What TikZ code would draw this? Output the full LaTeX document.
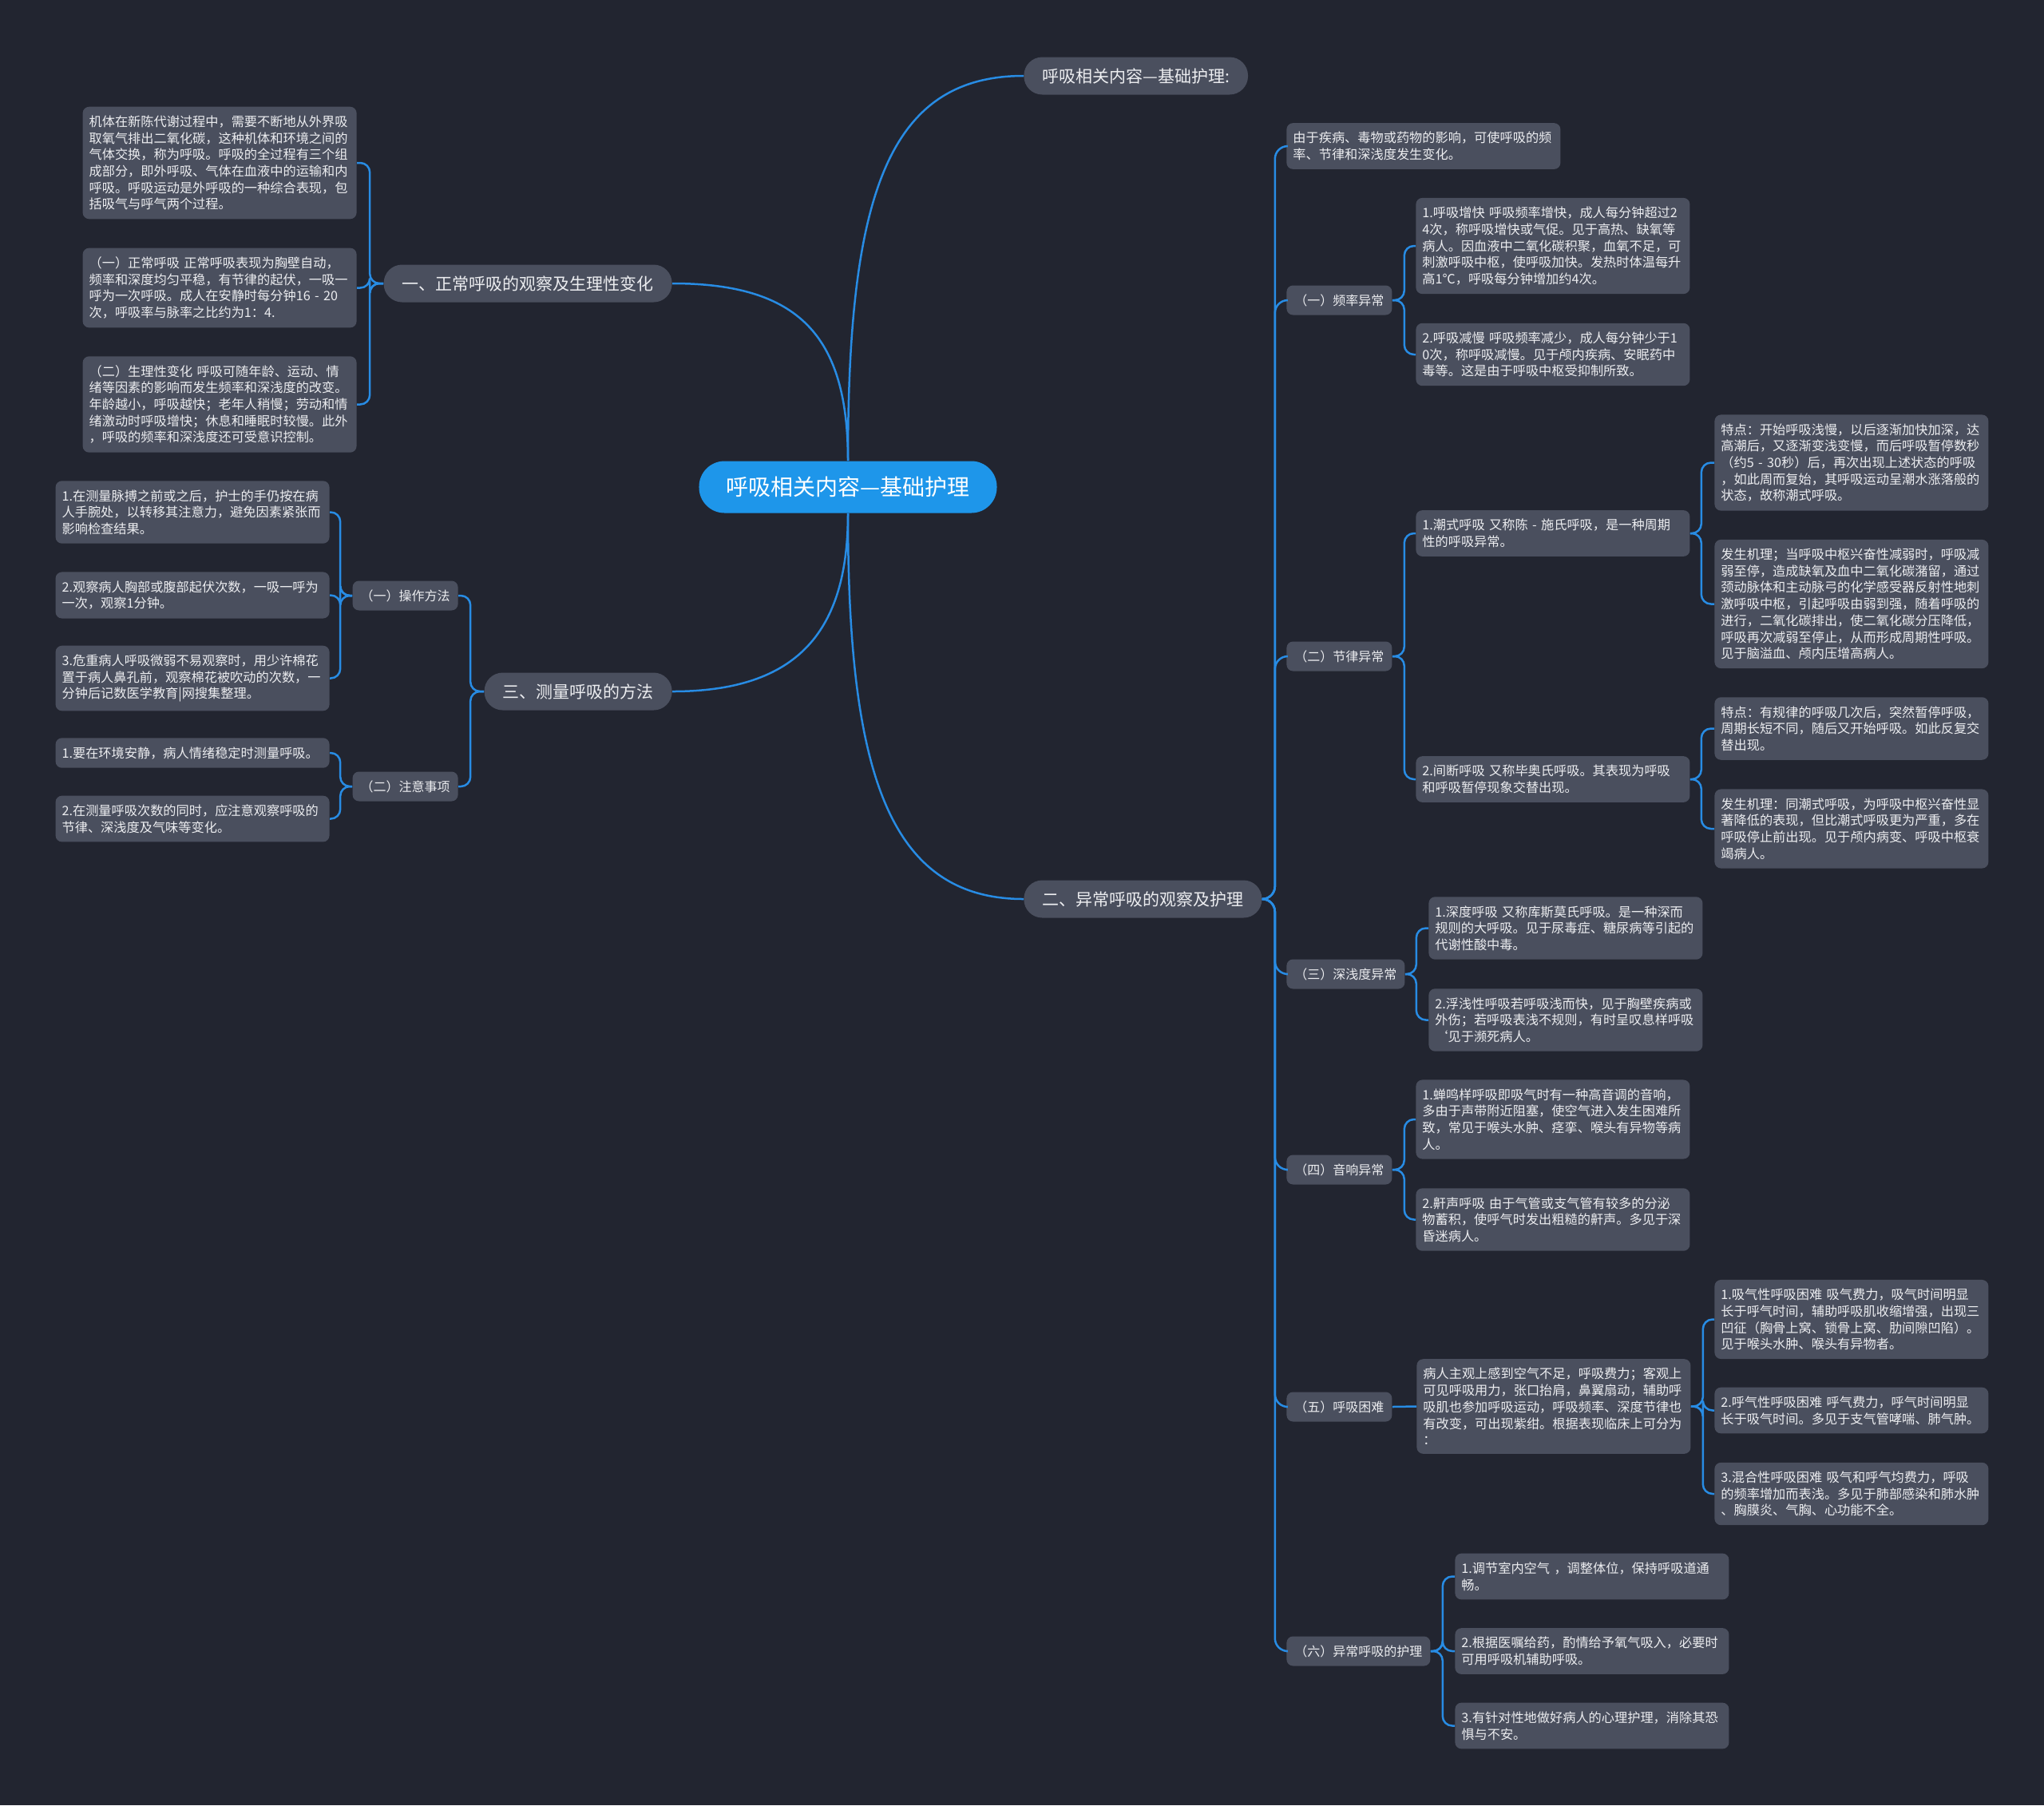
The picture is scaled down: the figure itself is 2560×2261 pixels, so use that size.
\documentclass[tikz,border=0pt]{standalone}
\usepackage{fontspec}
\setmainfont{Noto Sans CJK SC}

\definecolor{bgdark}{RGB}{34,37,48}
\definecolor{boxgrey}{RGB}{74,79,94}
\definecolor{linkblue}{RGB}{40,140,228}
\definecolor{rootblue}{RGB}{30,150,234}
\definecolor{txtwhite}{RGB}{236,237,240}

\tikzset{
  base/.style={fill=boxgrey, text=txtwhite, rounded corners=4pt},
  root/.style={fill=rootblue, text=white, rounded corners=16pt,
    font=\fontsize{14}{16}\selectfont, inner xsep=17pt, minimum height=32.5pt},
  branch/.style={base, rounded corners=11.5pt, font=\fontsize{10.5}{12}\selectfont,
    inner xsep=11.5pt, minimum height=23.5pt},
  sub/.style={base, font=\fontsize{8}{10.35}\selectfont, inner xsep=5pt,
    minimum height=18.5pt},
  leaf/.style={base, font=\fontsize{8.1}{10.35}\selectfont, align=left,
    text width=163.5pt, inner xsep=4pt, inner ysep=5.5pt},
  link/.style={draw=linkblue, line width=1.25pt, rounded corners=6pt},
}

\begin{document}
\begin{tikzpicture}[x=0.5pt, y=-0.5pt]

  \path[use as bounding box, fill=bgdark] (0,0) rectangle (2560,2261);

  \node[root] (root) at (1062,610) {呼吸相关内容—基础护理};

  \node[branch, anchor=west] (top) at (1282,95) {呼吸相关内容—基础护理:};
  \node[branch, anchor=east] (normal) at (842,355) {一、正常呼吸的观察及生理性变化};
  \node[branch, anchor=east] (measure) at (842,866) {三、测量呼吸的方法};
  \node[branch, anchor=west] (abnormal) at (1282,1126) {二、异常呼吸的观察及护理};

  % left side
  \node[leaf, anchor=east] (a1) at (447,204) {机体在新陈代谢过程中，需要不断地从外界吸\\取氧气排出二氧化碳，这种机体和环境之间的\\气体交换，称为呼吸。呼吸的全过程有三个组\\成部分，即外呼吸、气体在血液中的运输和内\\呼吸。呼吸运动是外呼吸的一种综合表现，包\\括吸气与呼气两个过程。};
  \node[leaf, anchor=east] (a2) at (447,360.5) {（一）正常呼吸 正常呼吸表现为胸壁自动，\\频率和深度均匀平稳，有节律的起伏，一吸一\\呼为一次呼吸。成人在安静时每分钟16 - 20\\次，呼吸率与脉率之比约为1：4.};
  \node[leaf, anchor=east] (a3) at (447,506.5) {（二）生理性变化 呼吸可随年龄、运动、情\\绪等因素的影响而发生频率和深浅度的改变。\\年龄越小，呼吸越快；老年人稍慢；劳动和情\\绪激动时呼吸增快；休息和睡眠时较慢。此外\\，呼吸的频率和深浅度还可受意识控制。};

  \node[sub, anchor=east] (op) at (574,746) {（一）操作方法};
  \node[sub, anchor=east] (heed) at (574,985) {（二）注意事项};

  \node[leaf, anchor=east] (b1) at (413,641.5) {1.在测量脉搏之前或之后，护士的手仍按在病\\人手腕处，以转移其注意力，避免因素紧张而\\影响检查结果。};
  \node[leaf, anchor=east] (b2) at (413,745.5) {2.观察病人胸部或腹部起伏次数，一吸一呼为\\一次，观察1分钟。};
  \node[leaf, anchor=east] (b3) at (413,849.5) {3.危重病人呼吸微弱不易观察时，用少许棉花\\置于病人鼻孔前，观察棉花被吹动的次数，一\\分钟后记数医学教育|网搜集整理。};
  \node[leaf, anchor=east] (c1) at (413,943) {1.要在环境安静，病人情绪稳定时测量呼吸。};
  \node[leaf, anchor=east] (c2) at (413,1025.5) {2.在测量呼吸次数的同时，应注意观察呼吸的\\节律、深浅度及气味等变化。};

  % right side
  \node[leaf, anchor=west] (d0) at (1611,183) {由于疾病、毒物或药物的影响，可使呼吸的频\\率、节律和深浅度发生变化。};

  \node[sub, anchor=west] (freq) at (1611,376) {（一）频率异常};
  \node[sub, anchor=west] (rhythm) at (1611,822) {（二）节律异常};
  \node[sub, anchor=west] (depth) at (1611,1220) {（三）深浅度异常};
  \node[sub, anchor=west] (sound) at (1611,1465) {（四）音响异常};
  \node[sub, anchor=west] (dysp) at (1611,1762) {（五）呼吸困难};
  \node[sub, anchor=west] (nurse) at (1611,2068) {（六）异常呼吸的护理};

  \node[leaf, anchor=west] (e1) at (1773,308) {1.呼吸增快 呼吸频率增快，成人每分钟超过2\\4次，称呼吸增快或气促。见于高热、缺氧等\\病人。因血液中二氧化碳积聚，血氧不足，可\\刺激呼吸中枢，使呼吸加快。发热时体温每升\\高1℃，呼吸每分钟增加约4次。};
  \node[leaf, anchor=west] (e2) at (1773,444) {2.呼吸减慢 呼吸频率减少，成人每分钟少于1\\0次，称呼吸减慢。见于颅内疾病、安眠药中\\毒等。这是由于呼吸中枢受抑制所致。};

  \node[leaf, anchor=west] (f1) at (1773,668) {1.潮式呼吸 又称陈 - 施氏呼吸，是一种周期\\性的呼吸异常。};
  \node[leaf, anchor=west] (f2) at (1773,976) {2.间断呼吸 又称毕奥氏呼吸。其表现为呼吸\\和呼吸暂停现象交替出现。};

  \node[leaf, anchor=west] (f1a) at (2147,579.5) {特点：开始呼吸浅慢，以后逐渐加快加深，达\\高潮后，又逐渐变浅变慢，而后呼吸暂停数秒\\（约5 - 30秒）后，再次出现上述状态的呼吸\\，如此周而复始，其呼吸运动呈潮水涨落般的\\状态，故称潮式呼吸。};
  \node[leaf, anchor=west] (f1b) at (2147,756.5) {发生机理；当呼吸中枢兴奋性减弱时，呼吸减\\弱至停，造成缺氧及血中二氧化碳潴留，通过\\颈动脉体和主动脉弓的化学感受器反射性地刺\\激呼吸中枢，引起呼吸由弱到强，随着呼吸的\\进行，二氧化碳排出，使二氧化碳分压降低，\\呼吸再次减弱至停止，从而形成周期性呼吸。\\见于脑溢血、颅内压增高病人。};
  \node[leaf, anchor=west] (f2a) at (2147,912.5) {特点：有规律的呼吸几次后，突然暂停呼吸，\\周期长短不同，随后又开始呼吸。如此反复交\\替出现。};
  \node[leaf, anchor=west] (f2b) at (2147,1038) {发生机理：同潮式呼吸，为呼吸中枢兴奋性显\\著降低的表现，但比潮式呼吸更为严重，多在\\呼吸停止前出现。见于颅内病变、呼吸中枢衰\\竭病人。};

  \node[leaf, anchor=west] (g1) at (1789,1162.5) {1.深度呼吸 又称库斯莫氏呼吸。是一种深而\\规则的大呼吸。见于尿毒症、糖尿病等引起的\\代谢性酸中毒。};
  \node[leaf, anchor=west] (g2) at (1789,1277.5) {2.浮浅性呼吸若呼吸浅而快，见于胸壁疾病或\\外伤；若呼吸表浅不规则，有时呈叹息样呼吸\\‘见于濒死病人。};

  \node[leaf, anchor=west] (h1) at (1773,1402) {1.蝉鸣样呼吸即吸气时有一种高音调的音响，\\多由于声带附近阻塞，使空气进入发生困难所\\致，常见于喉头水肿、痉挛、喉头有异物等病\\人。};
  \node[leaf, anchor=west] (h2) at (1773,1527.5) {2.鼾声呼吸 由于气管或支气管有较多的分泌\\物蓄积，使呼气时发出粗糙的鼾声。多见于深\\昏迷病人。};

  \node[leaf, anchor=west] (i0) at (1774,1761.5) {病人主观上感到空气不足，呼吸费力；客观上\\可见呼吸用力，张口抬肩，鼻翼扇动，辅助呼\\吸肌也参加呼吸运动，呼吸频率、深度节律也\\有改变，可出现紫绀。根据表现临床上可分为\\：};
  \node[leaf, anchor=west] (i1) at (2147,1652.5) {1.吸气性呼吸困难 吸气费力，吸气时间明显\\长于呼气时间，辅助呼吸肌收缩增强，出现三\\凹征（胸骨上窝、锁骨上窝、肋间隙凹陷）。\\见于喉头水肿、喉头有异物者。};
  \node[leaf, anchor=west] (i2) at (2147,1766.5) {2.呼气性呼吸困难 呼气费力，呼气时间明显\\长于吸气时间。多见于支气管哮喘、肺气肿。};
  \node[leaf, anchor=west] (i3) at (2147,1871) {3.混合性呼吸困难 吸气和呼气均费力，呼吸\\的频率增加而表浅。多见于肺部感染和肺水肿\\、胸膜炎、气胸、心功能不全。};

  \node[leaf, anchor=west] (j1) at (1822,1974.5) {1.调节室内空气 ，调整体位，保持呼吸道通\\畅。};
  \node[leaf, anchor=west] (j2) at (1822,2068) {2.根据医嘱给药，酌情给予氧气吸入，必要时\\可用呼吸机辅助呼吸。};
  \node[leaf, anchor=west] (j3) at (1822,2161.5) {3.有针对性地做好病人的心理护理，消除其恐\\惧与不安。};

  % connectors
  \draw[link] (root.north) .. controls (1062,250) and (1110,95) .. (top.west);
  \draw[link] (root.north) .. controls (1062,420) and (1000,355) .. (normal.east);
  \draw[link] (root.south) .. controls (1062,790) and (1000,866) .. (measure.east);
  \draw[link] (root.south) .. controls (1062,960) and (1110,1126) .. (abnormal.west);

  \foreach \c in {a1,a2,a3}
    \draw[link] (normal.west) -- ++(-17,0) |- (\c.east);
  \foreach \c in {op,heed}
    \draw[link] (measure.west) -- ++(-17,0) |- (\c.east);
  \foreach \c in {b1,b2,b3}
    \draw[link] (op.west) -- ++(-15,0) |- (\c.east);
  \foreach \c in {c1,c2}
    \draw[link] (heed.west) -- ++(-15,0) |- (\c.east);

  \foreach \c in {d0,freq,rhythm,depth,sound,dysp,nurse}
    \draw[link, rounded corners=8pt] (abnormal.east) -- ++(16,0) |- (\c.west);
  \foreach \c in {e1,e2}
    \draw[link] (freq.east) -- ++(15,0) |- (\c.west);
  \foreach \c in {f1,f2}
    \draw[link] (rhythm.east) -- ++(15,0) |- (\c.west);
  \foreach \c in {f1a,f1b}
    \draw[link] (f1.east) -- ++(14,0) |- (\c.west);
  \foreach \c in {f2a,f2b}
    \draw[link] (f2.east) -- ++(14,0) |- (\c.west);
  \foreach \c in {g1,g2}
    \draw[link] (depth.east) -- ++(14,0) |- (\c.west);
  \foreach \c in {h1,h2}
    \draw[link] (sound.east) -- ++(15,0) |- (\c.west);
  \draw[link] (dysp.east) -- (i0.west);
  \foreach \c in {i1,i2,i3}
    \draw[link] (i0.east) -- ++(15,0) |- (\c.west);
  \foreach \c in {j1,j2,j3}
    \draw[link] (nurse.east) -- ++(15,0) |- (\c.west);

\end{tikzpicture}
\end{document}
